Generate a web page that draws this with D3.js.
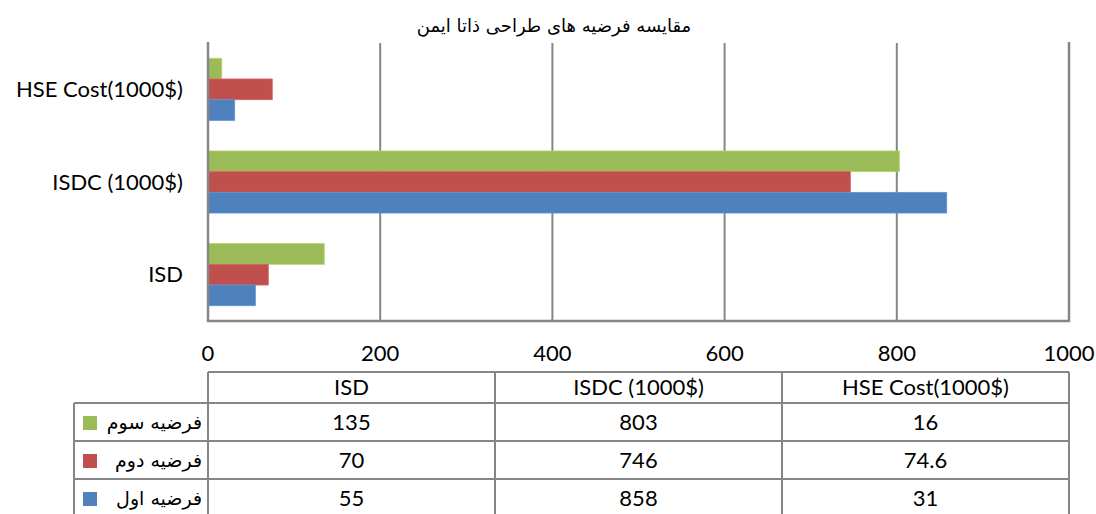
<!DOCTYPE html>
<html>
    <head>
        <meta charset="utf-8">
        <title>ISD chart</title>
        <script type="text/javascript" src="https://d3js.org/d3.v7.min.js"></script>
        <style>
            body { margin: 0; background: #fff; }
            text { font-family: Lato, 'Open Sans', sans-serif; }
            .fa { font-family: 'DejaVu Sans', sans-serif; }
        </style>
    </head>
    <body>
        <div class="div_d3"></div>

        <script type="text/javascript">
            let title = 'مقایسه فرضیه های طراحی ذاتا ایمن';
            let categories = [ 'ISD', 'ISDC (1000$)', 'HSE Cost(1000$)' ];
            let seriesNames = [ 'فرضیه سوم', 'فرضیه دوم', 'فرضیه اول' ];
            let seriesColors = [ '#9bbb59', '#c0504d', '#4f81bd' ];
            let values3 = [ 135, 803, 16 ];
            let values2 = [ 70, 746, 74.6 ];
            let values1 = [ 55, 858, 31 ];
            let valueLabels3 = [ '135', '803', '16' ];
            let valueLabels2 = [ '70', '746', '74.6' ];
            let valueLabels1 = [ '55', '858', '31' ];
            let xTicks = [ 0, 200, 400, 600, 800, 1000 ];

            let seriesValues = [ values3, values2, values1 ];
            let seriesLabels = [ valueLabels3, valueLabels2, valueLabels1 ];

            let width = 1096;
            let height = 514;
            let plotLeft = 208, plotRight = 1069, plotTop = 43, plotBottom = 321;
            let grey = '#868686';
            let fontSize = '22px';

            let svg = d3.select('.div_d3')
                .append('svg')
                    .attr('width', width)
                    .attr('height', height);

            let x = d3.scaleLinear().domain([0, 1000]).range([plotLeft, plotRight]);
            let y = d3.scaleBand()
                .domain(categories.slice().reverse())
                .range([plotTop, plotBottom])
                .paddingInner(0.33)
                .paddingOuter(0.165);
            let ySub = d3.scaleBand()
                .domain(d3.range(seriesNames.length))
                .range([0, y.bandwidth()]);

            // title
            svg.append('text')
                .attr('class', 'fa')
                .attr('x', 554)
                .attr('y', 32)
                .attr('text-anchor', 'middle')
                .style('font-size', '18px')
                .text(title);

            // grid lines
            svg.append('g')
                .selectAll('line')
                .data(xTicks.slice(1, -1))
                .enter()
                .append('line')
                    .attr('x1', d => x(d))
                    .attr('x2', d => x(d))
                    .attr('y1', plotTop)
                    .attr('y2', plotBottom)
                    .attr('stroke', grey)
                    .attr('stroke-width', 2);

            // bars
            seriesValues.forEach((vals, s) => {
                svg.append('g')
                    .selectAll('rect')
                    .data(vals)
                    .enter()
                    .append('rect')
                        .attr('x', x(0))
                        .attr('y', (d, i) => y(categories[i]) + ySub(s))
                        .attr('width', d => x(d) - x(0))
                        .attr('height', ySub.bandwidth())
                        .attr('fill', seriesColors[s])
                        .attr('stroke', d3.color(seriesColors[s]).brighter(0.4))
                        .attr('stroke-width', 0.8);
            });

            // plot frame: left axis, right edge, bottom
            svg.append('path')
                .attr('d', `M${plotLeft},${plotTop - 1}V${plotBottom}H${plotRight}V${plotTop - 1}`)
                .attr('fill', 'none')
                .attr('stroke', grey)
                .attr('stroke-width', 2.5);

            // category labels
            svg.append('g')
                .selectAll('text')
                .data(categories)
                .enter()
                .append('text')
                    .attr('x', 183)
                    .attr('y', d => y(d) + y.bandwidth() / 2)
                    .attr('dy', '0.35em')
                    .attr('text-anchor', 'end')
                    .style('font-size', fontSize)
                    .text(d => d);

            // x tick labels
            svg.append('g')
                .selectAll('text')
                .data(xTicks)
                .enter()
                .append('text')
                    .attr('x', d => x(d))
                    .attr('y', 361)
                    .attr('text-anchor', 'middle')
                    .style('font-size', fontSize)
                    .text(d => d);

            // data table
            let tTop = 372, headH = 31, rowH = 38, legLeft = 74;
            let colW = (plotRight - plotLeft) / categories.length;
            let table = svg.append('g')
                .attr('stroke', grey)
                .attr('stroke-width', 2);
            table.append('line')
                .attr('x1', plotLeft).attr('x2', plotRight)
                .attr('y1', tTop).attr('y2', tTop);
            table.selectAll('.row')
                .data(d3.range(seriesNames.length))
                .enter()
                .append('line')
                    .attr('x1', legLeft).attr('x2', plotRight)
                    .attr('y1', i => tTop + headH + i * rowH)
                    .attr('y2', i => tTop + headH + i * rowH);
            table.selectAll('.col')
                .data(d3.range(categories.length + 1))
                .enter()
                .append('line')
                    .attr('x1', i => plotLeft + i * colW).attr('x2', i => plotLeft + i * colW)
                    .attr('y1', tTop).attr('y2', height + 2);
            table.append('line')
                .attr('x1', legLeft).attr('x2', legLeft)
                .attr('y1', tTop + headH).attr('y2', height + 2);

            // header
            svg.append('g')
                .selectAll('text')
                .data(categories)
                .enter()
                .append('text')
                    .attr('x', (d, i) => plotLeft + colW * (i + 0.5))
                    .attr('y', tTop + headH / 2)
                    .attr('dy', '0.35em')
                    .attr('text-anchor', 'middle')
                    .style('font-size', fontSize)
                    .text(d => d);

            // rows: legend key + values
            seriesNames.forEach((name, s) => {
                let cy = tTop + headH + rowH * (s + 0.5);
                svg.append('rect')
                    .attr('x', 83)
                    .attr('y', cy - 6)
                    .attr('width', 14)
                    .attr('height', 14)
                    .attr('fill', seriesColors[s]);
                svg.append('text')
                    .attr('class', 'fa')
                    .attr('x', 202)
                    .attr('y', cy)
                    .attr('dy', '0.35em')
                    .attr('text-anchor', 'end')
                    .style('font-size', '19px')
                    .text(name);
                svg.append('g')
                    .selectAll('text')
                    .data(seriesLabels[s])
                    .enter()
                    .append('text')
                        .attr('x', (d, i) => plotLeft + colW * (i + 0.5))
                        .attr('y', cy)
                        .attr('dy', '0.35em')
                        .attr('text-anchor', 'middle')
                        .style('font-size', fontSize)
                        .text(d => d);
            });
        </script>
    </body>
</html>
